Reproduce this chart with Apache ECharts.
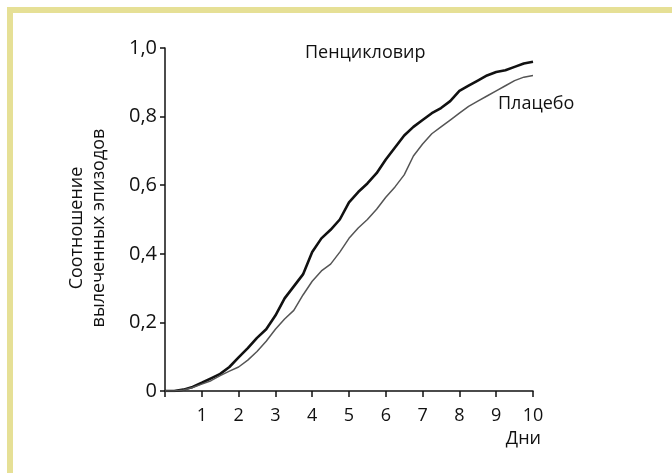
<!DOCTYPE html>
<html><head><meta charset="utf-8">
<script src="https://cdn.jsdelivr.net/npm/echarts@6/dist/echarts.min.js"></script>
<style>html,body{margin:0;padding:0;background:#fff}#c{width:672px;height:473px}</style>
</head><body><div id="c"></div>
<script>
const days = [0,0.25,0.5,0.75,1,1.25,1.5,1.75,2,2.25,2.5,2.75,3,3.25,3.5,3.75,4,4.25,4.5,4.75,5,5.25,5.5,5.75,6,6.25,6.5,6.75,7,7.25,7.5,7.75,8,8.25,8.5,8.75,9,9.25,9.5,9.75,10];
const penciclovir = [0,0,0.004,0.012,0.024,0.037,0.05,0.07,0.098,0.125,0.155,0.18,0.22,0.27,0.305,0.34,0.405,0.445,0.47,0.5,0.55,0.58,0.605,0.635,0.675,0.71,0.745,0.77,0.79,0.81,0.825,0.845,0.875,0.89,0.905,0.92,0.93,0.935,0.945,0.955,0.96];
const placebo = [0,0,0.003,0.01,0.02,0.03,0.045,0.058,0.07,0.09,0.115,0.145,0.18,0.21,0.235,0.28,0.32,0.35,0.37,0.405,0.445,0.475,0.5,0.53,0.565,0.595,0.63,0.685,0.72,0.75,0.77,0.79,0.81,0.83,0.845,0.86,0.875,0.89,0.905,0.915,0.92];
const seriesNames = ['Пенцикловир','Плацебо'];
const yAxisTitle = ['Соотношение','вылеченных эпизодов'];
const xAxisTitle = 'Дни';

const FONT = 'Open Sans';
const chart = echarts.init(document.getElementById('c'));
chart.setOption({
  animation:false,
  backgroundColor:'#fff',
  grid:{left:165,right:139,top:48,bottom:82},
  xAxis:{type:'value',min:0,max:10,interval:1,
    axisLine:{onZero:false,lineStyle:{color:'#111',width:1.5}},
    axisTick:{length:6,lineStyle:{color:'#111',width:1.5}},
    axisLabel:{color:'#111',fontSize:18,fontFamily:FONT,margin:16,
      formatter:v=>v===0?'':String(v)},
    splitLine:{show:false}},
  yAxis:{type:'value',min:0,max:1,interval:0.2,
    axisLine:{show:true,lineStyle:{color:'#111',width:1.5}},
    axisTick:{show:true,length:5,lineStyle:{color:'#111',width:1.5}},
    axisLabel:{color:'#111',fontSize:20,fontFamily:FONT,margin:8,
      formatter:v=>v===0?'0':v.toFixed(1).replace('.',',')},
    splitLine:{show:false}},
  series:[
    {name:seriesNames[0],type:'line',showSymbol:false,smooth:false,
     data:days.map((d,i)=>[d,penciclovir[i]]),
     lineStyle:{color:'#111',width:2.6}},
    {name:seriesNames[1],type:'line',showSymbol:false,smooth:false,
     data:days.map((d,i)=>[d,placebo[i]]),
     lineStyle:{color:'#555',width:1.5}}
  ],
  graphic:[
    {type:'rect',shape:{x:7,y:7,width:665,height:6},style:{fill:'#e6e096'}},
    {type:'rect',shape:{x:7,y:7,width:6,height:466},style:{fill:'#e6e096'}},
    {type:'text',x:305,y:53,style:{text:seriesNames[0],font:'18px "Open Sans"',fill:'#111',verticalAlign:'middle'}},
    {type:'text',x:498,y:104,style:{text:seriesNames[1],font:'18px "Open Sans"',fill:'#111',verticalAlign:'middle'}},
    {type:'text',x:541,y:439,style:{text:xAxisTitle,font:'18px "Open Sans"',fill:'#111',align:'right',verticalAlign:'middle'}},
    {type:'text',x:77,y:228,rotation:Math.PI/2,style:{text:yAxisTitle[0],font:'18px "Open Sans"',fill:'#111',align:'center',verticalAlign:'middle'}},
    {type:'text',x:99,y:228,rotation:Math.PI/2,style:{text:yAxisTitle[1],font:'18px "Open Sans"',fill:'#111',align:'center',verticalAlign:'middle'}}
  ]
});
</script></body></html>
